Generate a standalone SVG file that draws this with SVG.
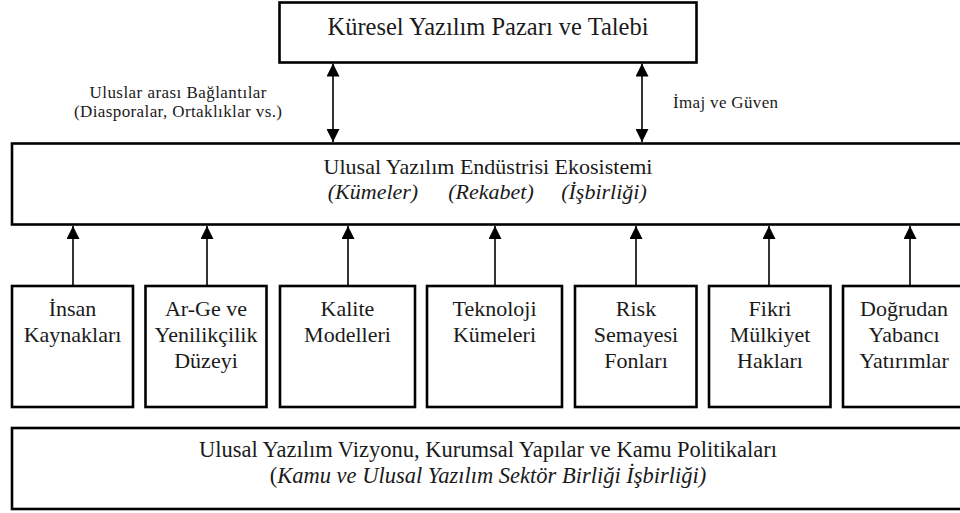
<svg xmlns="http://www.w3.org/2000/svg" width="960" height="513" viewBox="0 0 960 513">
<defs>
<style>
.box{fill:#fff;stroke:#000;stroke-width:2.6}
.t{font-family:"Liberation Serif","Times New Roman",serif;font-size:22px;fill:#1a1a1a;text-anchor:middle}
.it{font-style:italic}
.lbl{font-family:"Liberation Serif","Times New Roman",serif;font-size:17px;fill:#1a1a1a}
.c{fill:none;stroke:#000;stroke-width:1.6}
</style>
<marker id="ah" markerUnits="userSpaceOnUse" markerWidth="13" markerHeight="13" viewBox="0 0 13 13" refX="13" refY="6.5" orient="auto-start-reverse">
<path d="M0,0 L13,6.5 L0,13 Z" fill="#000"/>
</marker>
</defs>
<rect width="960" height="513" fill="#fff"/>

<g id="connectors">
<line class="c" x1="333" y1="63.5" x2="333" y2="142" marker-start="url(#ah)" marker-end="url(#ah)"/>
<line class="c" x1="642" y1="63.5" x2="642" y2="142" marker-start="url(#ah)" marker-end="url(#ah)"/>
<line class="c" x1="73" y1="286" x2="73" y2="226" marker-end="url(#ah)"/>
<line class="c" x1="207" y1="286" x2="207" y2="226" marker-end="url(#ah)"/>
<line class="c" x1="348" y1="286" x2="348" y2="226" marker-end="url(#ah)"/>
<line class="c" x1="495" y1="286" x2="495" y2="226" marker-end="url(#ah)"/>
<line class="c" x1="636" y1="286" x2="636" y2="226" marker-end="url(#ah)"/>
<line class="c" x1="769" y1="286" x2="769" y2="226" marker-end="url(#ah)"/>
<line class="c" x1="910" y1="286" x2="910" y2="226" marker-end="url(#ah)"/>
<text class="lbl" x="178" y="98" text-anchor="middle" textLength="177">Uluslar arası Bağlantılar</text>
<text class="lbl" x="178" y="117" text-anchor="middle" textLength="208">(Diasporalar, Ortaklıklar vs.)</text>
<text class="lbl" x="673" y="108" textLength="105">İmaj ve Güven</text>
</g>

<g id="market">
<rect class="box" x="279.5" y="2.5" width="417" height="60"/>
<text class="t" x="488" y="35" style="font-size:24.5px">Küresel Yazılım Pazarı ve Talebi</text>
</g>

<g id="ecosystem">
<rect class="box" x="12" y="143.5" width="954" height="81"/>
<text class="t" x="488" y="174">Ulusal Yazılım Endüstrisi Ekosistemi</text>
<text class="t it" x="373" y="199">(Kümeler)</text>
<text class="t it" x="491" y="199">(Rekabet)</text>
<text class="t it" x="604" y="199">(İşbirliği)</text>
</g>

<g id="n1">
<rect class="box" x="12" y="286" width="121" height="121"/>
<text class="t" x="72.5" y="316">İnsan</text>
<text class="t" x="72.5" y="342">Kaynakları</text>
</g>
<g id="n2">
<rect class="box" x="145.5" y="286" width="121" height="121"/>
<text class="t" x="206" y="316">Ar-Ge ve</text>
<text class="t" x="206" y="342">Yenilikçilik</text>
<text class="t" x="206" y="368">Düzeyi</text>
</g>
<g id="n3">
<rect class="box" x="280" y="286" width="135" height="121"/>
<text class="t" x="347.5" y="316">Kalite</text>
<text class="t" x="347.5" y="342">Modelleri</text>
</g>
<g id="n4">
<rect class="box" x="427" y="286" width="135" height="121"/>
<text class="t" x="494.5" y="316">Teknoloji</text>
<text class="t" x="494.5" y="342">Kümeleri</text>
</g>
<g id="n5">
<rect class="box" x="575" y="286" width="121.5" height="121"/>
<text class="t" x="636" y="316">Risk</text>
<text class="t" x="636" y="342">Semayesi</text>
<text class="t" x="636" y="368">Fonları</text>
</g>
<g id="n6">
<rect class="box" x="709" y="286" width="121.5" height="121"/>
<text class="t" x="770" y="316">Fikri</text>
<text class="t" x="770" y="342">Mülkiyet</text>
<text class="t" x="770" y="368">Hakları</text>
</g>
<g id="n7">
<rect class="box" x="843" y="286" width="122" height="121"/>
<text class="t" x="904" y="316">Doğrudan</text>
<text class="t" x="904" y="342">Yabancı</text>
<text class="t" x="904" y="368">Yatırımlar</text>
</g>

<g id="policy">
<rect class="box" x="12" y="428" width="954" height="81"/>
<text class="t" x="488" y="457" style="font-size:22.5px">Ulusal Yazılım Vizyonu, Kurumsal Yapılar ve Kamu Politikaları</text>
<text class="t" x="488" y="483" style="font-size:22.5px">(<tspan class="it">Kamu ve Ulusal Yazılım Sektör Birliği İşbirliği)</tspan></text>
</g>
</svg>
